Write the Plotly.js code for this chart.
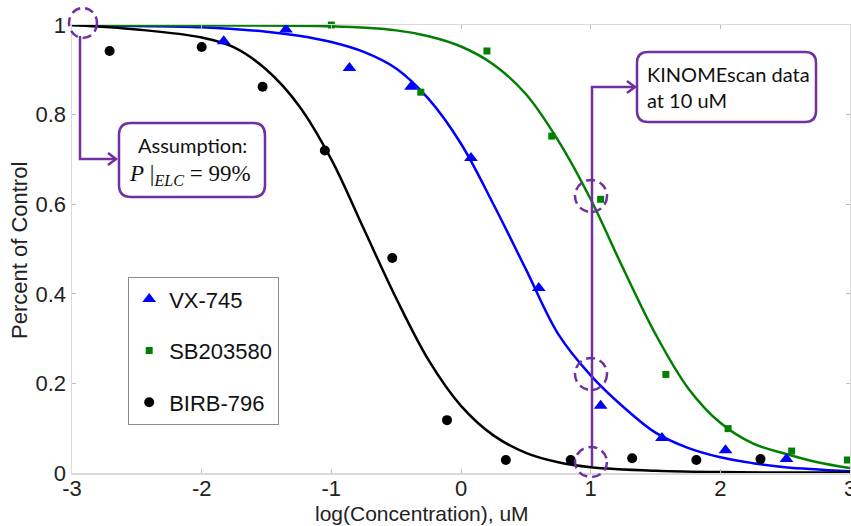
<!DOCTYPE html>
<html>
<head>
<meta charset="utf-8">
<script src="https://cdn.plot.ly/plotly-3.0.1.min.js"></script>
<style>html,body{margin:0;padding:0;background:#fff;}#chart{width:851px;height:526px;}</style>
</head>
<body>
<div id="chart"></div>
<script>
// ---- Data ----
// Measured points
const vxX = [-1.83, -1.35, -0.86, -0.385, 0.077, 0.60, 1.077, 1.55, 2.04, 2.51];
const vxY = [0.964, 0.990, 0.904, 0.862, 0.703, 0.413, 0.150, 0.078, 0.051, 0.031];

const sbX = [-1.0, -0.31, 0.20, 0.70, 1.077, 1.58, 2.06, 2.55, 2.98];
const sbY = [1.0, 0.850, 0.942, 0.752, 0.611, 0.220, 0.099, 0.049, 0.029];

const birbX = [-2.71, -2.0, -1.53, -1.05, -0.53, -0.108, 0.346, 0.846, 1.32, 1.815, 2.31];
const birbY = [0.942, 0.951, 0.862, 0.720, 0.480, 0.118, 0.029, 0.029, 0.033, 0.029, 0.031];

// Fitted curves
const vxFitX = [-3, -2.5, -2.0, -1.5, -1.25, -1.0, -0.75, -0.5, -0.25, 0, 0.25, 0.5, 0.75, 1.0, 1.25, 1.5, 1.75, 2.0, 2.25, 2.5, 3];
const vxFitY = [1.0, 0.998, 0.995, 0.985, 0.976, 0.962, 0.94, 0.903, 0.835, 0.735, 0.60, 0.455, 0.31, 0.218, 0.148, 0.09, 0.056, 0.035, 0.022, 0.013, 0.004];

const sbFitX = [-3, -2.0, -1.0, -0.5, -0.25, 0, 0.25, 0.5, 0.75, 1.0, 1.25, 1.5, 1.75, 2.0, 2.25, 2.5, 2.75, 3];
const sbFitY = [1.0, 0.999, 0.997, 0.988, 0.975, 0.952, 0.912, 0.846, 0.742, 0.611, 0.457, 0.31, 0.19, 0.112, 0.066, 0.043, 0.024, 0.011];

const birbFitX = [-3, -2.5, -2.0, -1.75, -1.5, -1.25, -1.0, -0.75, -0.5, -0.25, 0, 0.25, 0.5, 0.75, 1.0, 1.5, 2.0, 3];
const birbFitY = [1.0, 0.99, 0.972, 0.95, 0.90, 0.82, 0.70, 0.545, 0.39, 0.252, 0.15, 0.084, 0.045, 0.024, 0.013, 0.005, 0.002, 0.001];

const seriesNames = ['VX-745', 'SB203580', 'BIRB-796'];
const xTicks = [-3, -2, -1, 0, 1, 2, 3];
const xTickText = ['-3', '-2', '-1', '0', '1', '2', '3'];
const yTicks = [0, 0.2, 0.4, 0.6, 0.8, 1];
const yTickText = ['0', '0.2', '0.4', '0.6', '0.8', '1'];

// ---- Layout geometry (pixels) ----
const W = 851, H = 526;
const ML = 72, MR = 1, MT = 25, MB = 53;
const PW = W - ML - MR, PH = H - MT - MB;
const purple = '#7030A0';
// pixel -> paper helpers for the decorations
const PX = p => (p - ML) / PW;
const PY = p => (H - MB - p) / PH;

function rrect(x0, y0, x1, y1, r) {
  const pts = [
    ['M', x0 + r, y0], ['L', x1 - r, y0], ['Q', x1, y0, x1, y0 + r],
    ['L', x1, y1 - r], ['Q', x1, y1, x1 - r, y1], ['L', x0 + r, y1],
    ['Q', x0, y1, x0, y1 - r], ['L', x0, y0 + r], ['Q', x0, y0, x0 + r, y0]
  ];
  return pts.map(s => {
    let out = s[0];
    for (let i = 1; i < s.length; i += 2) out += ' ' + PX(s[i]).toFixed(5) + ',' + PY(s[i + 1]).toFixed(5);
    return out;
  }).join(' ') + ' Z';
}
function poly(pts) {
  return pts.map((p, i) => (i ? 'L ' : 'M ') + PX(p[0]).toFixed(5) + ',' + PY(p[1]).toFixed(5)).join(' ');
}
function dcircle(cx, cy, rx, ry) {
  return {type: 'circle', xref: 'paper', yref: 'paper', x0: PX(cx - rx), x1: PX(cx + rx), y0: PY(cy + ry), y1: PY(cy - ry),
          line: {color: purple, width: 2.5, dash: '9px,5px'}, layer: 'above'};
}
function pline(pts) {
  return {type: 'path', xref: 'paper', yref: 'paper', path: poly(pts), line: {color: purple, width: 2.5}, layer: 'above'};
}

const traces = [
  {x: vxFitX, y: vxFitY, mode: 'lines', line: {color: '#0000FF', width: 2.5, shape: 'spline', smoothing: 1}, showlegend: false, hoverinfo: 'skip'},
  {x: sbFitX, y: sbFitY, mode: 'lines', line: {color: '#007F00', width: 2.5, shape: 'spline', smoothing: 1}, showlegend: false, hoverinfo: 'skip'},
  {x: birbFitX, y: birbFitY, mode: 'lines', line: {color: '#000000', width: 2.5, shape: 'spline', smoothing: 1}, showlegend: false, hoverinfo: 'skip'},
  {x: vxX, y: vxY, mode: 'markers', name: seriesNames[0], legendgroup: 'a', marker: {symbol: 'triangle-up', size: 12, color: '#0000FF'}, cliponaxis: false},
  {x: sbX, y: sbY, mode: 'markers', name: seriesNames[1], legendgroup: 'b', marker: {symbol: 'square', size: 7, color: '#007F00'}, cliponaxis: false},
  {x: birbX, y: birbY, mode: 'markers', name: seriesNames[2], legendgroup: 'c', marker: {symbol: 'circle', size: 10, color: '#000000'}, cliponaxis: false}
];

const axisCommon = {
  showgrid: false, zeroline: false, showline: true, linecolor: '#d9d9d9', linewidth: 1.5,
  mirror: 'ticks', ticks: 'inside', ticklen: 4, tickcolor: '#bdbdbd', tickwidth: 1,
  tickfont: {family: 'Liberation Sans, Arial, sans-serif', size: 22, color: '#222'}
};

const shapes = [
  // KINOMEscan callout
  {type: 'path', xref: 'paper', yref: 'paper', path: rrect(637, 52, 816, 122, 11), line: {color: purple, width: 2.5}, fillcolor: 'rgba(255,255,255,1)', layer: 'above'},
  pline([[592, 466], [592, 87], [635, 87]]),
  pline([[627, 81], [635, 87], [627, 93]]),
  // Assumption callout
  {type: 'path', xref: 'paper', yref: 'paper', path: rrect(119, 123, 265, 197, 12), line: {color: purple, width: 2.5}, fillcolor: 'rgba(255,255,255,1)', layer: 'above'},
  pline([[80, 36], [80, 159], [116, 159]]),
  pline([[108, 153], [116, 159], [108, 165]]),
  // dashed circles
  dcircle(83, 23, 14, 15),
  dcircle(591, 196, 16, 16),
  dcircle(591, 374, 16, 16),
  dcircle(591, 462, 16, 15)
];

const annotations = [
  {xref: 'paper', yref: 'paper', x: PX(645), y: PY(87), xanchor: 'left', yanchor: 'middle', align: 'left', showarrow: false,
   text: 'KINOMEscan data<br>at 10 uM', font: {family: 'Lato, Carlito, sans-serif', size: 20, color: '#111'}},
  {xref: 'paper', yref: 'paper', x: PX(192), y: PY(145), xanchor: 'center', yanchor: 'middle', showarrow: false,
   text: 'Assumption:', font: {family: 'Lato, Carlito, sans-serif', size: 20, color: '#111'}},
  {xref: 'paper', yref: 'paper', x: PX(190), y: PY(175), xanchor: 'center', yanchor: 'middle', showarrow: false,
   text: '<i>P</i> |<sub><i>ELC</i></sub> = 99%', font: {family: 'Liberation Serif, Times New Roman, serif', size: 23, color: '#111'}},
  {xref: 'paper', yref: 'paper', x: PX(422), y: PY(513), xanchor: 'center', yanchor: 'middle', showarrow: false,
   text: 'log(Concentration), uM', font: {family: 'Liberation Sans, Arial, sans-serif', size: 21, color: '#222'}},
  {xref: 'paper', yref: 'paper', x: PX(19), y: PY(251), xanchor: 'center', yanchor: 'middle', showarrow: false, textangle: -90,
   text: 'Percent of Control', font: {family: 'Liberation Sans, Arial, sans-serif', size: 22, color: '#222'}}
];

const layout = {
  width: W, height: H,
  margin: {l: ML, r: MR, t: MT, b: MB, pad: 0},
  paper_bgcolor: '#fff', plot_bgcolor: '#fff',
  xaxis: Object.assign({}, axisCommon, {range: [-3, 3], tickvals: xTicks, ticktext: xTickText, ticklabelstandoff: -5, ticklabeloverflow: 'allow'}),
  yaxis: Object.assign({}, axisCommon, {range: [0, 1], tickvals: yTicks, ticktext: yTickText}),
  legend: {x: PX(128), y: PY(277), xanchor: 'left', yanchor: 'top', bgcolor: '#fff', bordercolor: '#8c8c8c', borderwidth: 1.2,
           font: {family: 'Liberation Sans, Arial, sans-serif', size: 22, color: '#111'}, tracegroupgap: 20, traceorder: 'grouped'},
  shapes: shapes,
  annotations: annotations,
  showlegend: true
};

Plotly.newPlot('chart', traces, layout, {displayModeBar: false, staticPlot: true});
</script>
</body>
</html>
